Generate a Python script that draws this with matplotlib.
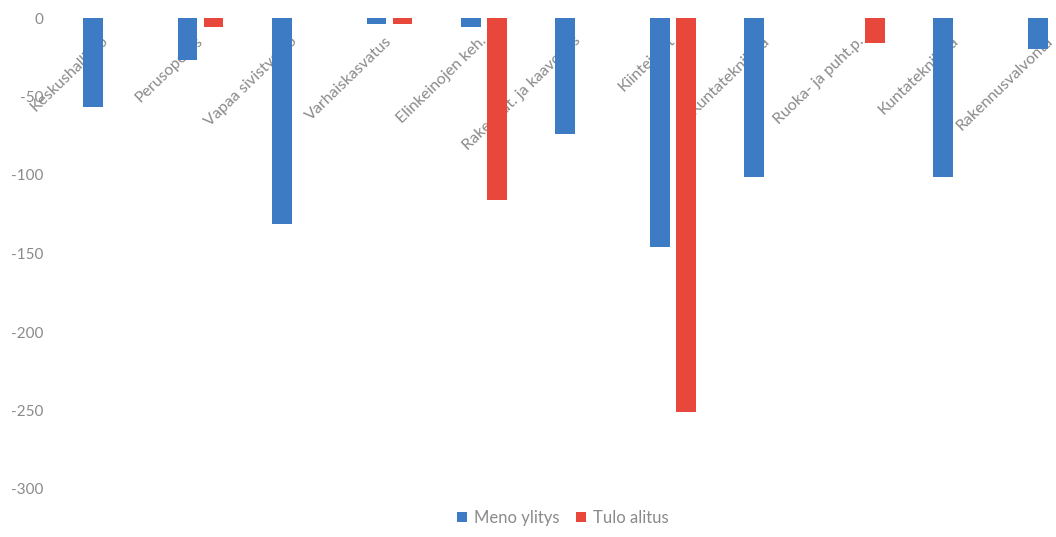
import matplotlib
matplotlib.use("Agg")
import matplotlib.pyplot as plt
import numpy as np

categories = ["Keskushallinto", "Perusopetus", "Vapaa sivistystyö", "Varhaiskasvatus",
              "Elinkeinojen keh.", "Rakennut. ja kaavoitus", "Kiinteistöt", "Kuntatekniikka",
              "Ruoka- ja puht.p.", "Kuntatekniikka", "Rakennusvalvonta"]
meno_ylitys = [-57, -27, -131, -4, -6, -74, -146, -101, 0, -101, -20]
tulo_alitus = [0, -6, 0, -4, -116, 0, -251, 0, -16, 0, 0]
yticks = [0, -50, -100, -150, -200, -250, -300]

blue = "#3D7CC4"
red = "#E8483B"
gray = "#8A8A8A"

plt.rcParams['font.family'] = ['Lato', 'DejaVu Sans']

W, H = 1056, 537
fig = plt.figure(figsize=(W / 100, H / 100), dpi=100)
left = 58.75 / W
right = 1098 / W
top = 1 - 18 / H
bottom = 1 - 489 / H
ax = fig.add_axes([left, bottom, right - left, top - bottom])

x = np.arange(len(categories))
bw = 0.21
off = 0.1376
b1 = ax.bar(x - off, meno_ylitys, bw, color=blue, label="Meno ylitys", zorder=2)
b2 = ax.bar(x + off, tulo_alitus, bw, color=red, label="Tulo alitus", zorder=2)

ax.set_xlim(-0.5, len(categories) - 0.5)
ax.set_ylim(-300, 0)
ax.set_yticks(yticks)
ax.set_yticklabels([str(v) for v in yticks])
ax.set_axisbelow(True)

for s in ax.spines.values():
    s.set_visible(False)
ax.spines['bottom'].set_position(('data', 0))

ax.set_xticks(x)
ax.set_xticklabels(categories, rotation=44, ha='right', va='center', rotation_mode='anchor')
ax.tick_params(axis='x', length=0, pad=15, colors=gray, labelsize=11.5)
ax.tick_params(axis='y', length=0, pad=11, colors=gray, labelsize=11)

fig.legend(handles=[b1, b2], loc='center', bbox_to_anchor=(563 / W, 1 - 518 / H),
           ncol=2, frameon=False, handlelength=0.6, handleheight=0.6,
           handletextpad=0.4, columnspacing=1.0, fontsize=12, labelcolor=gray)

fig.savefig("out.png", dpi=100, facecolor="white")
